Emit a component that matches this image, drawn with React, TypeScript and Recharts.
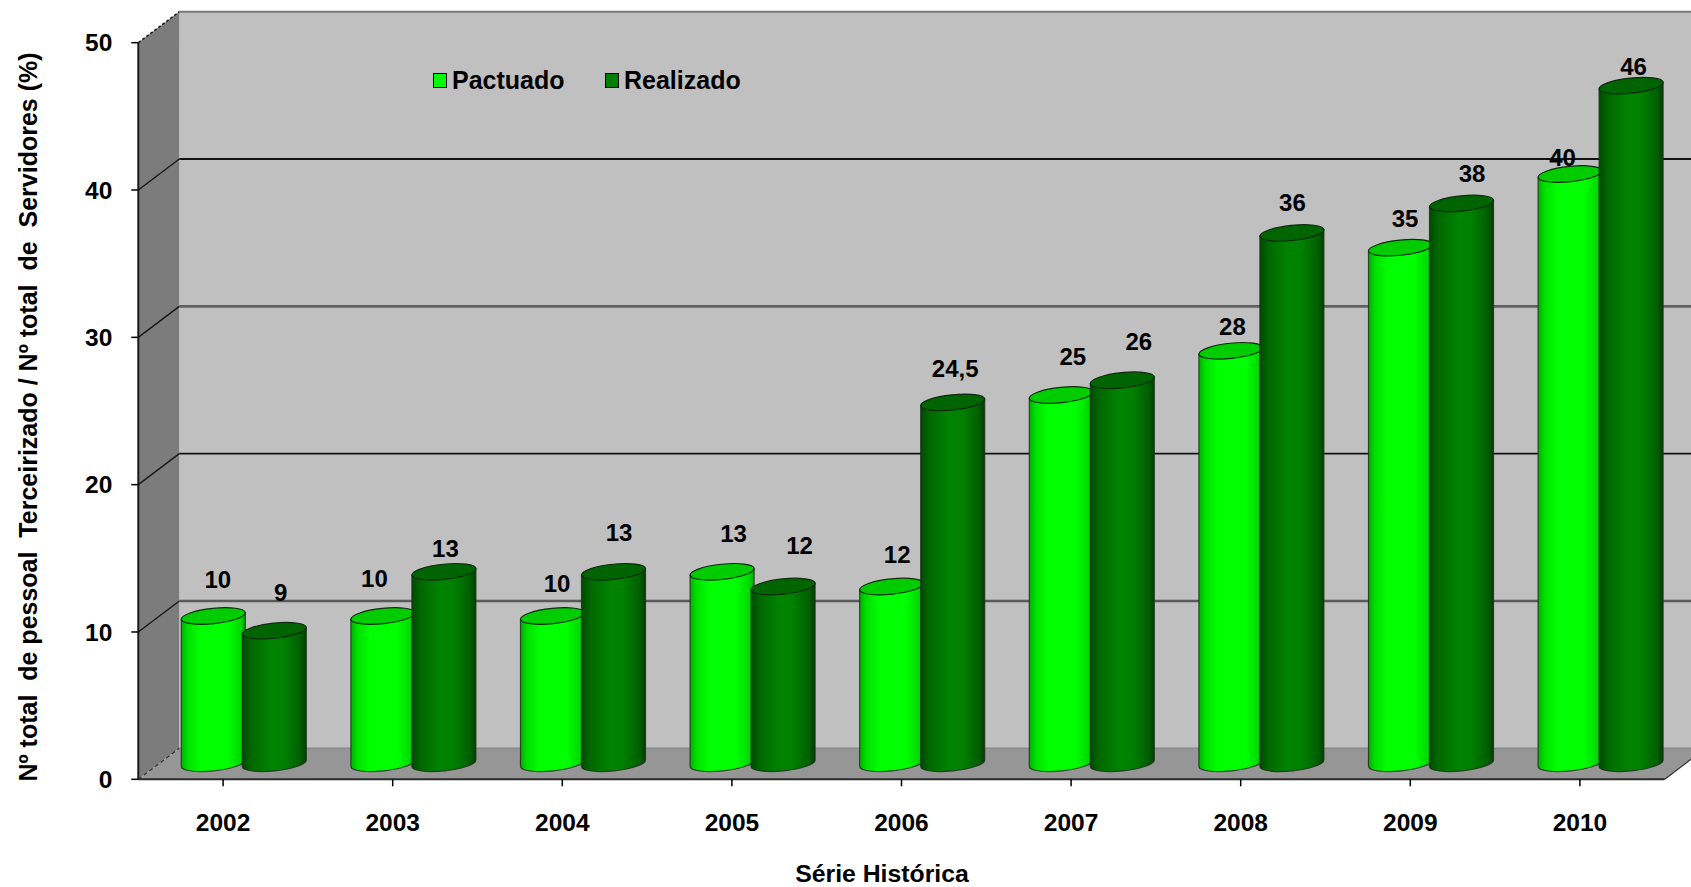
import React from 'react';
import { BarChart, Bar, XAxis, YAxis, CartesianGrid, Legend, LabelList } from 'recharts';

const years = ['2002', '2003', '2004', '2005', '2006', '2007', '2008', '2009', '2010'];
const pactuado = [10, 10, 10, 13, 12, 25, 28, 35, 40];
const realizado = [9, 13, 13, 12, 24.5, 26, 36, 38, 46];
const yTicks = [0, 10, 20, 30, 40, 50];

// Reference labels were placed by hand: per-bar nudges [dx, dy] from the top of each cylinder.
const nudgeP = [[5, -37], [-8, -38], [5, -33], [12, -39], [6, -33], [12, -39], [2, -25], [5, -30], [-7, -17]];
const nudgeR = [[7, -39], [2, -24], [6, -40], [17, -42], [3, -34], [17, -39], [1, -31], [11, -30], [3, -20]];

const rows = years.map((year, i) => ({ year, Pactuado: pactuado[i], Realizado: realizado[i] }));

const W = 1691, H = 887;
const LEFT = 138.3, TOP = 42.7, BOTTOM = 779.3, RIGHT = 1664.7;
const DX = 41, DY = 31;
const FONT = '"Liberation Sans", Arial, sans-serif';
const AXIS_W = 100, AXIS_H = 60;
const gridColor = ['#8a8a8a', '#5a5a5a', '#111111', '#606060', '#111111', '#777777'];
const gridWidth = [1.5, 2.6, 1.8, 2.6, 1.8, 2];

function Cylinder({ x, y, width, height, body, cap }: any) {
  const sx = x + DX / 2 + 0.5, sy = y - DY / 2 - 0.5;
  const hw = width / 2, cx = sx + hw;
  const rise = hw * Math.tan((6 * Math.PI) / 180);
  const rx = hw / Math.cos((6 * Math.PI) / 180), ry = 7.6;
  const bottom = sy + height;
  const edge = '#1c331c';
  return (
    <g>
      <path
        d={`M${cx - hw},${sy + rise} L${cx - hw},${bottom + rise} A${rx},${ry} -6 0 0 ${cx + hw},${bottom - rise} L${cx + hw},${sy - rise} Z`}
        fill={`url(#${body})`}
        stroke={edge}
        strokeWidth={1.2}
        strokeOpacity={0.85}
      />
      <ellipse cx={cx} cy={sy} rx={rx} ry={ry} transform={`rotate(-6 ${cx} ${sy})`} fill={cap} stroke="#0f2a0f" strokeWidth={1.2} />
    </g>
  );
}

const makeLabel = (nudge: number[][], shift: number) => (p: any) => {
  const [dx, dy] = nudge[p.index];
  const label = String(p.value).replace('.', ',');
  return (
    <text
      x={p.x + p.width / 2 + shift + dx}
      y={p.y - DY / 2 + dy}
      textAnchor="middle"
      dominantBaseline="central"
      fontFamily={FONT}
      fontWeight={700}
      fontSize={24}
      fill="#000"
    >
      {label}
    </text>
  );
};

function GridLine(p: any) {
  const y = p.y1;
  const v = Math.round(((BOTTOM - y) / (BOTTOM - TOP)) * 50);
  const c = gridColor[v / 10] ?? '#555';
  const sw = gridWidth[v / 10] ?? 2;
  if (v === 0) {
    return <path d={`M${LEFT + DX},${y - DY} H${W}`} stroke={c} strokeWidth={sw} fill="none" />;
  }
  return (
    <g fill="none">
      <path d={`M${LEFT},${y} L${LEFT + DX},${y - DY}`} stroke="#1a1a1a" strokeWidth={1.5} strokeDasharray={v === 50 ? '3 2' : undefined} />
      <path d={`M${LEFT + DX},${y - DY} H${W}`} stroke={c} strokeWidth={sw} />
    </g>
  );
}

function LegendBox({ payload }: any) {
  const swatch: Record<string, string> = { Pactuado: '#00ff00', Realizado: '#008000' };
  return (
    <div style={{ position: 'relative', height: 30, width: 330 }}>
      {(payload ?? []).map((e: any, i: number) => (
        <div
          key={e.value}
          style={{ position: 'absolute', left: i === 0 ? 0 : 172, top: 0, display: 'flex', alignItems: 'center', height: 30 }}
        >
          <span style={{ width: 12, height: 13, border: '1.5px solid #000', background: swatch[e.value], marginRight: 5 }} />
          <span style={{ fontFamily: FONT, fontWeight: 700, fontSize: 25, color: '#000' }}>{e.value}</span>
        </div>
      ))}
    </div>
  );
}

export default function App() {
  return (
    <div style={{ position: 'absolute', left: 0, top: 0, width: W, height: H, overflow: 'hidden', background: '#fff' }}>
      <svg width={W} height={H} style={{ position: 'absolute', left: 0, top: 0 }}>
        <polygon points={`${LEFT + DX},${TOP - DY} ${W},${TOP - DY} ${W},${BOTTOM - DY} ${LEFT + DX},${BOTTOM - DY}`} fill="#c0c0c0" />
        <polygon points={`${LEFT},${TOP} ${LEFT + DX},${TOP - DY} ${LEFT + DX},${BOTTOM - DY} ${LEFT},${BOTTOM}`} fill="#7c7c7c" />
        <polygon points={`${LEFT},${BOTTOM} ${LEFT + DX},${BOTTOM - DY} ${W},${BOTTOM - DY} ${W},${BOTTOM - 20} ${RIGHT},${BOTTOM}`} fill="#969696" />
        <path d={`M${LEFT},${BOTTOM} L${LEFT + DX},${BOTTOM - DY}`} stroke="#333" strokeWidth={1.2} strokeDasharray="4 3" fill="none" />
        <path d={`M${RIGHT},${BOTTOM} L${W},${BOTTOM - 20}`} stroke="#333" strokeWidth={1.2} fill="none" />
      </svg>
      <div style={{ position: 'absolute', left: 0, top: 0 }}>
        <BarChart
          width={W}
          height={H}
          data={rows}
          margin={{ left: LEFT - AXIS_W, top: TOP, right: W - RIGHT, bottom: H - BOTTOM - AXIS_H }}
          barSize={64}
          barGap={-3}
          barCategoryGap={0}
        >
          <defs>
            <linearGradient id="bodyP" x1="0" y1="0" x2="1" y2="0">
              <stop offset="0" stopColor="#00b000" />
              <stop offset="0.1" stopColor="#00e000" />
              <stop offset="0.3" stopColor="#00ff00" />
              <stop offset="0.72" stopColor="#00ff00" />
              <stop offset="0.93" stopColor="#00d800" />
              <stop offset="1" stopColor="#00a000" />
            </linearGradient>
            <linearGradient id="bodyR" x1="0" y1="0" x2="1" y2="0">
              <stop offset="0" stopColor="#004a00" />
              <stop offset="0.14" stopColor="#006800" />
              <stop offset="0.45" stopColor="#008400" />
              <stop offset="0.65" stopColor="#008000" />
              <stop offset="0.9" stopColor="#006000" />
              <stop offset="1" stopColor="#003e00" />
            </linearGradient>
          </defs>
          <CartesianGrid vertical={false} horizontal={(p: any) => <GridLine key={p.key ?? p.y1} {...p} />} />
          <XAxis
            dataKey="year"
            axisLine={{ stroke: '#2a2a2a', strokeWidth: 2 }}
            tickLine={{ stroke: '#000', strokeWidth: 1.5 }}
            tickSize={7}
            tickMargin={27}
            height={AXIS_H}
            interval={0}
            tick={{ fontFamily: FONT, fontWeight: 700, fontSize: 24.5, fill: '#000' }}
            label={{
              content: () => (
                <text x={882} y={873} textAnchor="middle" dominantBaseline="central" fontFamily={FONT} fontWeight={700} fontSize={24.8} fill="#000">
                  Série Histórica
                </text>
              ),
            }}
          />
          <YAxis
            domain={[0, 50]}
            ticks={yTicks}
            width={AXIS_W}
            axisLine={{ stroke: '#1a1a1a', strokeWidth: 2 }}
            tickLine={{ stroke: '#000', strokeWidth: 1.5 }}
            tickSize={7}
            tickMargin={19}
            tick={{ fontFamily: FONT, fontWeight: 700, fontSize: 24.5, fill: '#000' }}
            label={{
              content: () => (
                <text
                  transform="translate(28 417) rotate(-90)"
                  textAnchor="middle"
                  dominantBaseline="central"
                  fontFamily={FONT}
                  fontWeight={700}
                  fontSize={25}
                  fill="#000"
                >
                  {'Nº total\u00a0 de pessoal\u00a0 Terceirizado / Nº total\u00a0 de\u00a0 Servidores (%)'}
                </text>
              ),
            }}
          />
          <Legend
            verticalAlign="middle"
            align="center"
            content={<LegendBox />}
            wrapperStyle={{ position: 'absolute', left: 433, top: 65, width: 330, height: 30 }}
          />
          <Bar dataKey="Pactuado" fill="#00ff00" isAnimationActive={false} shape={(p: any) => <Cylinder {...p} body="bodyP" cap="#00cc00" />}>
            <LabelList dataKey="Pactuado" content={makeLabel(nudgeP, DX / 2)} />
          </Bar>
          <Bar dataKey="Realizado" fill="#008000" isAnimationActive={false} shape={(p: any) => <Cylinder {...p} body="bodyR" cap="#006400" />}>
            <LabelList dataKey="Realizado" content={makeLabel(nudgeR, DX / 2)} />
          </Bar>
        </BarChart>
      </div>
    </div>
  );
}
